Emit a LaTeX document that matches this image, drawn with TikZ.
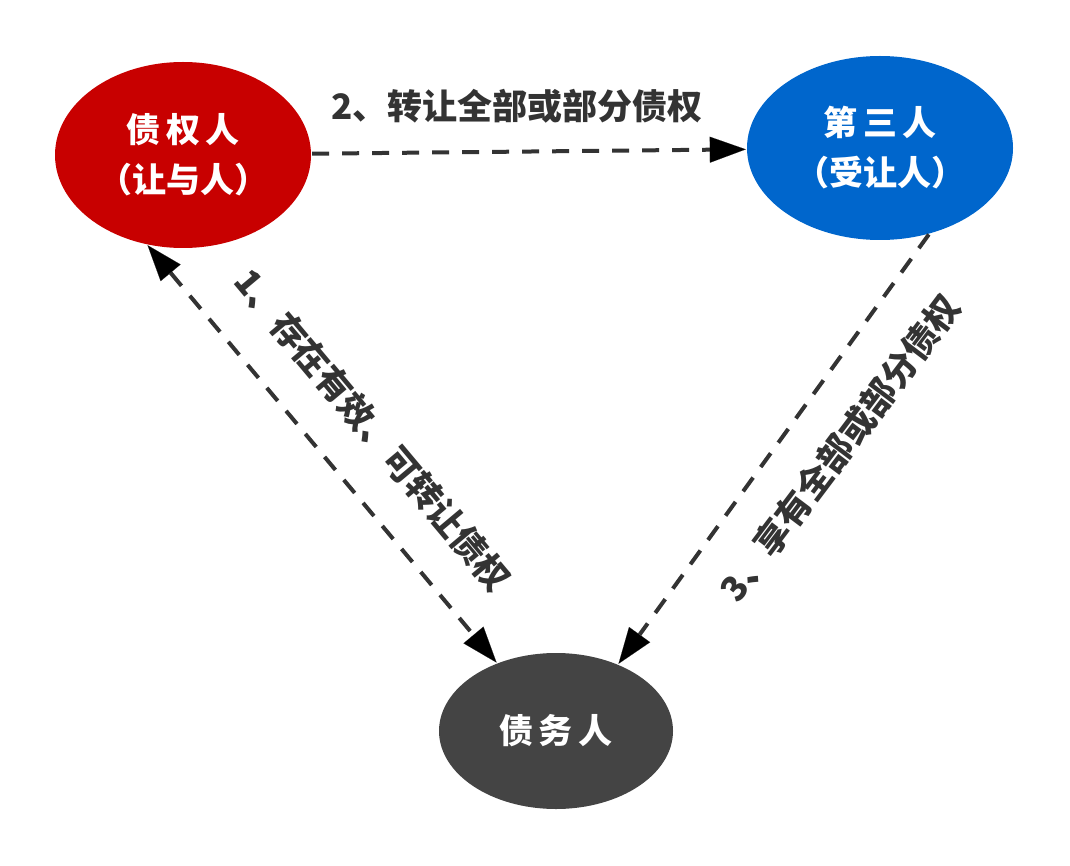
\documentclass[tikz,border=0pt]{standalone}
\usepackage{fontspec}
\usepackage{tikz}
\usetikzlibrary{arrows.meta,shapes.geometric}

\newfontfamily\cjk{Noto Sans CJK SC}
\newfontfamily\cjkwide[LetterSpace=15]{Noto Sans CJK SC}

\definecolor{credred}{HTML}{C80000}
\definecolor{thirdblue}{HTML}{0066CC}
\definecolor{debtgray}{HTML}{444444}
\definecolor{linegray}{HTML}{333333}

\tikzset{
  party/.style={ellipse,inner sep=0pt,text=white,align=center,
    font=\cjk\bfseries\fontsize{34}{50}\selectfont},
  conn/.style={draw=linegray,line width=4pt,dash pattern=on 17pt off 13pt,
    shorten >=1pt,shorten <=1pt},
  lbl/.style={inner sep=0pt,text=linegray,font=\cjk\bfseries\fontsize{35}{40}\selectfont}
}

\begin{document}
\begin{tikzpicture}[x=1pt,y=-1pt,>={Triangle[length=36pt,width=26pt,line width=0.1pt]}]

\useasboundingbox (0,0) rectangle (1070,866);

\node[party,fill=credred,minimum width=256pt,minimum height=186pt] (p_1) at (183,155)
  {{\cjkwide 债权人}\\（让与人）};
\node[party,fill=thirdblue,minimum width=266pt,minimum height=184pt] (p_2) at (880,148)
  {{\cjkwide 第三人}\\（受让人）};
\node[party,fill=debtgray,minimum width=234pt,minimum height=156pt] (p_3) at (556,731)
  {\cjkwide 债务人};

\path[conn] (p_1) edge[->] (p_2)
  (p_1.-112) edge[<->] (p_3.131.6)
  (p_2.-60) edge[->] (p_3.47);

\node[lbl] (l_2) at (517,106) {2、转让全部或部分债权};
\node[lbl,rotate=-50] (l_1) at (373,430) {1、存在有效、可转让债权};
\node[lbl,rotate=53] (l_3) at (840,448) {3、享有全部或部分债权};

\end{tikzpicture}
\end{document}
